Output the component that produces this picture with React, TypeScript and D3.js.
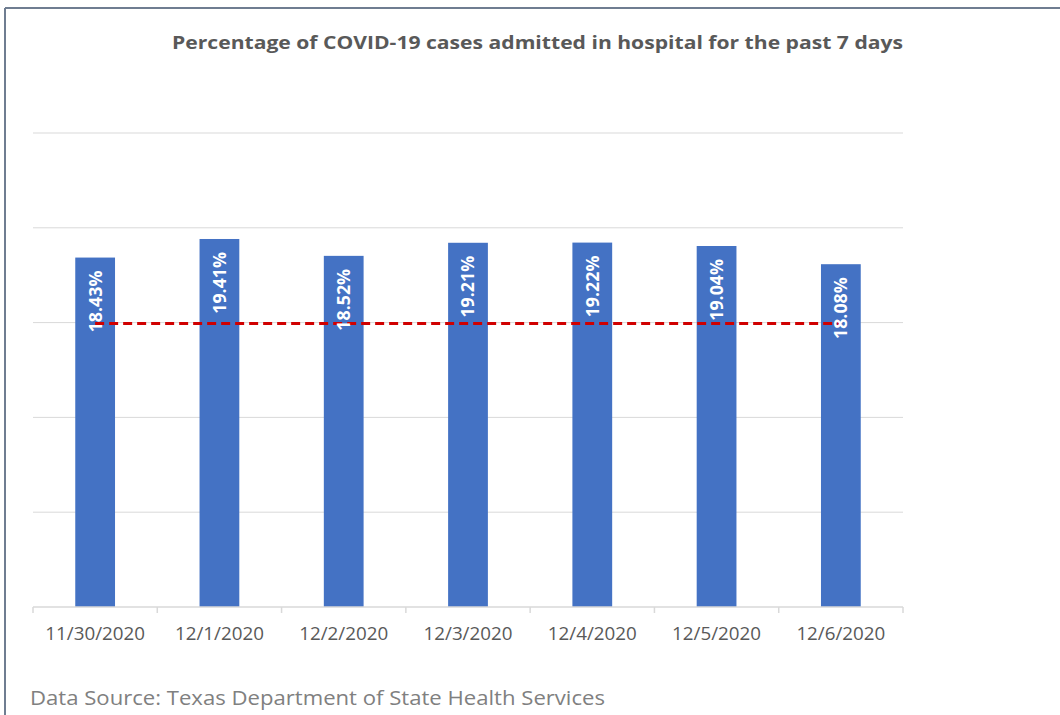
import React from "react";
import * as d3 from "d3";

const categories = ["11/30/2020", "12/1/2020", "12/2/2020", "12/3/2020", "12/4/2020", "12/5/2020", "12/6/2020"];
const values = [18.43, 19.41, 18.52, 19.21, 19.22, 19.04, 18.08];
const labels = ["18.43%", "19.41%", "18.52%", "19.21%", "19.22%", "19.04%", "18.08%"];
const yTicks = [0, 5, 10, 15, 20, 25];
const threshold = 15;
const title = "Percentage of COVID-19 cases admitted in hospital for the past 7 days";
const source = "Data Source: Texas Department of State Health Services";

export default function App() {
  const W = 1060, H = 715;
  const left = 33, right = 903, top = 133, bottom = 607;
  const x = d3.scaleBand<string>().domain(categories).range([left, right]).paddingInner(0.68).paddingOuter(0.34);
  const y = d3.scaleLinear().domain([0, 25]).range([bottom, top]);
  const step = x.step();
  const bw = x.bandwidth();
  const cx = (c: string) => (x(c) as number) + bw / 2;
  const boundaries = d3.range(categories.length + 1).map((i) => left + i * step);
  const font = "'Open Sans', sans-serif";

  return (
    <svg width={W} height={H} style={{ position: "absolute", left: 0, top: 0, background: "#fff" }}>
      <rect x={0} y={0} width={W} height={H} fill="#fff" />
      <line x1={5} y1={8} x2={W} y2={8} stroke="#6f7d91" strokeWidth={2} />
      <line x1={5} y1={8} x2={5} y2={H} stroke="#6f7d91" strokeWidth={2} />
      <text x={537.5} y={49} textAnchor="middle" fontFamily={font} fontWeight={700} fontSize={18.6}
        textLength={731} lengthAdjust="spacingAndGlyphs" fill="#595959">{title}</text>
      {yTicks.filter((t) => t > 0).map((t) => (
        <line key={t} x1={left} x2={right} y1={y(t)} y2={y(t)} stroke="#d9d9d9" strokeWidth={1} />
      ))}
      {categories.map((c, i) => (
        <rect key={c} x={x(c)} y={y(values[i])} width={bw} height={bottom - y(values[i])} fill="#4472c4" />
      ))}
      <line x1={left} x2={right} y1={bottom} y2={bottom} stroke="#d9d9d9" strokeWidth={1.5} />
      {boundaries.map((b, i) => (
        <line key={i} x1={b} x2={b} y1={bottom} y2={bottom + 6} stroke="#d9d9d9" strokeWidth={1.5} />
      ))}
      <line x1={cx(categories[0])} x2={cx(categories[categories.length - 1])} y1={y(threshold) + 1} y2={y(threshold) + 1}
        stroke="#d00000" strokeWidth={3} strokeDasharray="9,5" />
      {categories.map((c, i) => {
        const px = cx(c);
        const py = y(values[i]) + 13;
        return (
          <text key={c} transform={`translate(${px},${py}) rotate(-90)`} textAnchor="end" dy="0.36em"
            fontFamily={font} fontWeight={700} fontSize={17.8} fill="#fff">{labels[i]}</text>
        );
      })}
      {categories.map((c) => (
        <text key={c} x={cx(c)} y={640} textAnchor="middle" fontFamily={font} fontSize={18.8} fill="#595959">{c}</text>
      ))}
      <text x={30} y={705} fontFamily={font} fontSize={20.6} textLength={575} lengthAdjust="spacingAndGlyphs"
        fill="#808080">{source}</text>
    </svg>
  );
}
